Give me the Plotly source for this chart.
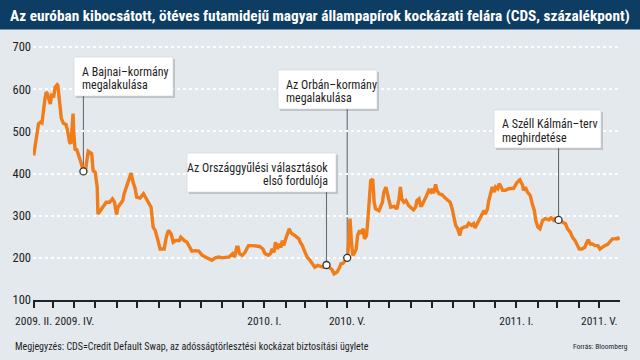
import plotly.graph_objects as go
import pandas as pd

# ---------------- data ----------------
dates = [
    "2009-02-01", "2009-02-04", "2009-02-05", "2009-02-08", "2009-02-11", "2009-02-13",
    "2009-02-17", "2009-02-19", "2009-02-21", "2009-02-25", "2009-02-27", "2009-03-02",
    "2009-03-04", "2009-03-07", "2009-03-08", "2009-03-11", "2009-03-13", "2009-03-16",
    "2009-03-20", "2009-03-22", "2009-03-25", "2009-03-27", "2009-03-29", "2009-03-30",
    "2009-03-31", "2009-04-02", "2009-04-04", "2009-04-07", "2009-04-09", "2009-04-11",
    "2009-04-14", "2009-04-17", "2009-04-19", "2009-04-21", "2009-04-23", "2009-04-26",
    "2009-04-28", "2009-05-01", "2009-05-04", "2009-05-05", "2009-05-07", "2009-05-12",
    "2009-05-17", "2009-05-22", "2009-05-26", "2009-05-29", "2009-06-01", "2009-06-03",
    "2009-06-06", "2009-06-10", "2009-06-12", "2009-06-16", "2009-06-19", "2009-06-22",
    "2009-06-25", "2009-06-28", "2009-06-30", "2009-07-05", "2009-07-10", "2009-07-14",
    "2009-07-17", "2009-07-21", "2009-07-24", "2009-07-27", "2009-07-31", "2009-08-03",
    "2009-08-09", "2009-08-12", "2009-08-15", "2009-08-19", "2009-08-22", "2009-08-26",
    "2009-08-31", "2009-09-02", "2009-09-07", "2009-09-11", "2009-09-15", "2009-09-18",
    "2009-09-23", "2009-09-28", "2009-10-03", "2009-10-08", "2009-10-13", "2009-10-17",
    "2009-10-22", "2009-10-27", "2009-11-01", "2009-11-06", "2009-11-11", "2009-11-16",
    "2009-11-19", "2009-11-22", "2009-11-24", "2009-11-26", "2009-11-30", "2009-12-04",
    "2009-12-07", "2009-12-09", "2009-12-15", "2009-12-20", "2009-12-25", "2009-12-30",
    "2010-01-02", "2010-01-07", "2010-01-10", "2010-01-12", "2010-01-15", "2010-01-17",
    "2010-01-20", "2010-01-22", "2010-01-25", "2010-01-27", "2010-01-29", "2010-02-01",
    "2010-02-03", "2010-02-06", "2010-02-08", "2010-02-10", "2010-02-14", "2010-02-17",
    "2010-02-20", "2010-02-22", "2010-02-25", "2010-03-01", "2010-03-04", "2010-03-08",
    "2010-03-11", "2010-03-15", "2010-03-19", "2010-03-23", "2010-03-27", "2010-04-01",
    "2010-04-05", "2010-04-09", "2010-04-12", "2010-04-16", "2010-04-19", "2010-04-22",
    "2010-04-25", "2010-04-28", "2010-05-01", "2010-05-02", "2010-05-04", "2010-05-05",
    "2010-05-07", "2010-05-09", "2010-05-11", "2010-05-14", "2010-05-16", "2010-05-19",
    "2010-05-21", "2010-05-24", "2010-05-26", "2010-05-29", "2010-05-31", "2010-06-02",
    "2010-06-04", "2010-06-07", "2010-06-09", "2010-06-11", "2010-06-16", "2010-06-21",
    "2010-06-23", "2010-06-26", "2010-06-28", "2010-06-30", "2010-07-03", "2010-07-08",
    "2010-07-12", "2010-07-15", "2010-07-17", "2010-07-19", "2010-07-22", "2010-07-25",
    "2010-07-29", "2010-08-01", "2010-08-05", "2010-08-08", "2010-08-10", "2010-08-13",
    "2010-08-15", "2010-08-17", "2010-08-21", "2010-08-24", "2010-08-27", "2010-08-30",
    "2010-09-01", "2010-09-03", "2010-09-06", "2010-09-08", "2010-09-11", "2010-09-15",
    "2010-09-20", "2010-09-25", "2010-09-27", "2010-09-30", "2010-10-02", "2010-10-05",
    "2010-10-08", "2010-10-11", "2010-10-13", "2010-10-17", "2010-10-21", "2010-10-24",
    "2010-10-28", "2010-10-31", "2010-11-02", "2010-11-05", "2010-11-09", "2010-11-12",
    "2010-11-15", "2010-11-17", "2010-11-20", "2010-11-22", "2010-11-25", "2010-11-27",
    "2010-11-30", "2010-12-02", "2010-12-05", "2010-12-07", "2010-12-10", "2010-12-12",
    "2010-12-16", "2010-12-21", "2010-12-28", "2011-01-02", "2011-01-06", "2011-01-10",
    "2011-01-11", "2011-01-14", "2011-01-17", "2011-01-21", "2011-01-24", "2011-01-27",
    "2011-01-29", "2011-02-01", "2011-02-04", "2011-02-08", "2011-02-12", "2011-02-17",
    "2011-02-20", "2011-02-24", "2011-02-26", "2011-03-03", "2011-03-08", "2011-03-13",
    "2011-03-16", "2011-03-20", "2011-03-23", "2011-03-27", "2011-03-30", "2011-04-02",
    "2011-04-06", "2011-04-10", "2011-04-13", "2011-04-15", "2011-04-18", "2011-04-21",
    "2011-04-25", "2011-04-29", "2011-05-02", "2011-05-06", "2011-05-09", "2011-05-13",
    "2011-05-16", "2011-05-20", "2011-05-24", "2011-05-28", "2011-05-30",
]
cds = [
    443, 474, 478, 518, 522, 520,
    573, 593, 589, 565, 585, 581,
    605, 611, 609, 566, 531, 519,
    516, 502, 474, 471, 518, 542,
    498, 455, 459, 443, 439, 423,
    405, 407, 431, 453, 451, 447,
    407, 403, 368, 304, 308, 320,
    332, 332, 340, 332, 303, 320,
    328, 336, 352, 372, 383, 401,
    379, 364, 344, 342, 352, 340,
    328, 320, 273, 265, 241, 221,
    221, 249, 265, 257, 237, 241,
    241, 249, 241, 237, 225, 216,
    217, 216, 206, 202, 196, 194,
    200, 202, 200, 202, 202, 210,
    202, 225, 225, 210, 206, 213,
    225, 229, 229, 227, 227, 221,
    210, 206, 210, 221, 213, 237,
    221, 233, 225, 241, 229, 245,
    257, 269, 261, 257, 253, 249,
    245, 237, 229, 213, 202, 194,
    186, 178, 182, 180, 178, 183,
    178, 172, 162, 166, 174, 186,
    187, 194, 200, 210, 289, 293,
    241, 206, 210, 221, 253, 265,
    257, 269, 245, 253, 293, 328,
    383, 387, 332, 316, 312, 332,
    356, 368, 348, 340, 320, 322,
    316, 340, 368, 340, 332, 336,
    324, 320, 314, 320, 336, 340,
    324, 324, 336, 348, 360, 356,
    364, 353, 374, 360, 352, 350,
    342, 336, 332, 316, 296, 277,
    269, 253, 269, 273, 274, 282,
    277, 281, 271, 281, 293, 300,
    312, 304, 316, 336, 360, 368,
    356, 368, 364, 376, 368, 360,
    360, 364, 365, 379, 385, 372,
    360, 368, 356, 348, 328, 312,
    289, 273, 269, 289, 293, 290,
    295, 289, 293, 290, 285, 281,
    269, 261, 249, 241, 229, 221,
    221, 225, 237, 243, 233, 233,
    229, 229, 221, 227, 229, 232,
    237, 245, 245, 247, 243,
]

event_dates = ["2009-04-14", "2010-04-01", "2010-05-01", "2011-03-03"]
event_values = [405, 183, 200, 290]
event_lines = [
    ["A Bajnai–kormány", "megalakulása"],
    ["Az Országgyűlési választások", "első fordulója"],
    ["Az Orbán–kormány", "megalakulása"],
    ["A Széll Kálmán–terv", "meghirdetése"],
]

tick_months = list(pd.date_range("2009-02-01", "2011-05-01", freq="MS").strftime("%Y-%m-%d"))
tick_label_map = {
    "2009-02-01": "2009. II.",
    "2009-04-01": "2009. IV.",
    "2010-01-01": "2010. I.",
    "2010-05-01": "2010. V.",
    "2011-01-01": "2011. I.",
    "2011-05-01": "2011. V.",
}
tick_text = [tick_label_map.get(m, "") for m in tick_months]
y_ticks = [100, 200, 300, 400, 500, 600, 700]

title_text = "Az euróban kibocsátott, ötéves futamidejű magyar állampapírok kockázati felára (CDS, százalékpont)"
note_text = "Megjegyzés: CDS=Credit Default Swap, az adósságtörlesztési kockázat biztosítási ügylete"
source_text = "Forrás: Bloomberg"

# ---------------- styling / layout ----------------
W, H = 640, 360
ML, MR, MT, MB = 33, 20, 42, 60
PW, PH = W - ML - MR, H - MT - MB
FONT = "Liberation Sans Narrow, Roboto Condensed, DejaVu Sans Condensed, Arial Narrow, sans-serif"
BG = "#e4e9ed"
NAVY = "#0d3d63"
ORANGE = "#f07d1a"
TXT = "#1e1e1e"


def px(x):
    return (x - ML) / PW


def py(y):
    return (H - MB - y) / PH


fig = go.Figure()
fig.add_trace(go.Scatter(
    x=dates, y=cds, mode="lines",
    line=dict(color=ORANGE, width=3.4, shape="linear"),
    hoverinfo="skip", showlegend=False,
))
fig.add_trace(go.Scatter(
    x=event_dates, y=event_values, mode="markers",
    marker=dict(size=7, color="white", line=dict(color="#333333", width=1.3)),
    hoverinfo="skip", showlegend=False,
))

shapes = []
annotations = []

# title band
shapes.append(dict(type="rect", xref="paper", yref="paper",
                   x0=px(0), x1=px(W), y0=py(29.5), y1=py(0),
                   fillcolor=NAVY, line=dict(width=0), layer="above"))
annotations.append(dict(xref="paper", yref="paper", x=px(320), y=py(15.5),
                        text="<b>" + title_text + "</b>", showarrow=False,
                        xanchor="center", yanchor="middle",
                        font=dict(family=FONT, size=15.3, color="white")))

# event boxes: (left, top, right, bottom) pixel boxes, text align
boxes = [
    (74, 57, 173, 96, "left"),
    (187, 153, 336, 192, "right"),
    (278, 70, 377, 109, "left"),
    (494, 110, 601, 148, "left"),
]
for (l, t, r, b, al), d, v, lines in zip(boxes, event_dates, event_values, event_lines):
    # connector
    shapes.append(dict(type="line", xref="x", yref="paper",
                       x0=d, x1=d, y0=py(b), y1=(v - 100) / 612,
                       line=dict(color="#6b6b6b", width=1.1), layer="between"))
    # shadow
    shapes.append(dict(type="rect", xref="paper", yref="paper",
                       x0=px(l + 2), x1=px(r + 2), y0=py(b + 2), y1=py(t + 2),
                       fillcolor="rgba(0,0,0,0.16)", line=dict(width=0), layer="above"))
    shapes.append(dict(type="rect", xref="paper", yref="paper",
                       x0=px(l), x1=px(r), y0=py(b), y1=py(t),
                       fillcolor="white", line=dict(color="#d0d4d8", width=0.6), layer="above"))
    hgt = b - t
    ys = [t + hgt * 0.38, t + hgt * 0.73]
    for txt, yy in zip(lines, ys):
        if al == "left":
            annotations.append(dict(xref="paper", yref="paper", x=px(l + 6), y=py(yy),
                                    text=txt, showarrow=False, xanchor="left", yanchor="middle",
                                    font=dict(family=FONT, size=12, color=TXT)))
        else:
            annotations.append(dict(xref="paper", yref="paper", x=px(r - 6), y=py(yy),
                                    text=txt, showarrow=False, xanchor="right", yanchor="middle",
                                    font=dict(family=FONT, size=12, color=TXT)))

# footer
annotations.append(dict(xref="paper", yref="paper", x=px(13), y=py(346),
                        text=note_text, showarrow=False, xanchor="left", yanchor="middle",
                        font=dict(family=FONT, size=10, color=TXT)))
annotations.append(dict(xref="paper", yref="paper", x=px(630), y=py(346),
                        text=source_text, showarrow=False, xanchor="right", yanchor="middle",
                        font=dict(family=FONT, size=7.5, color=TXT)))

fig.update_layout(
    width=W, height=H,
    margin=dict(l=ML, r=MR, t=MT, b=MB, pad=0, autoexpand=False),
    paper_bgcolor=BG, plot_bgcolor=BG,
    showlegend=False,
    shapes=shapes, annotations=annotations,
    font=dict(family=FONT, color=TXT),
)
fig.update_xaxes(
    type="date", range=["2009-01-31", "2011-05-31"],
    tickmode="array", tickvals=tick_months, ticktext=tick_text,
    tickangle=0, automargin=False,
    ticks="outside", ticklen=6, tickwidth=1.5, tickcolor="#222222",
    showline=True, linecolor="#222222", linewidth=1.5,
    showgrid=False, zeroline=False,
    ticklabelstandoff=3,
    tickfont=dict(family=FONT, size=11.5, color=TXT),
)
fig.update_yaxes(
    range=[100, 712], tickmode="array", tickvals=y_ticks,
    automargin=False,
    showgrid=True, gridcolor="white", griddash="dot", gridwidth=1.5,
    showline=False, zeroline=False, ticks="",
    ticklabelstandoff=1,
    tickfont=dict(family=FONT, size=12.5, color=TXT),
)

fig.write_html("out.html", config={"displayModeBar": False},
               post_script="document.body.style.margin='0px';")
